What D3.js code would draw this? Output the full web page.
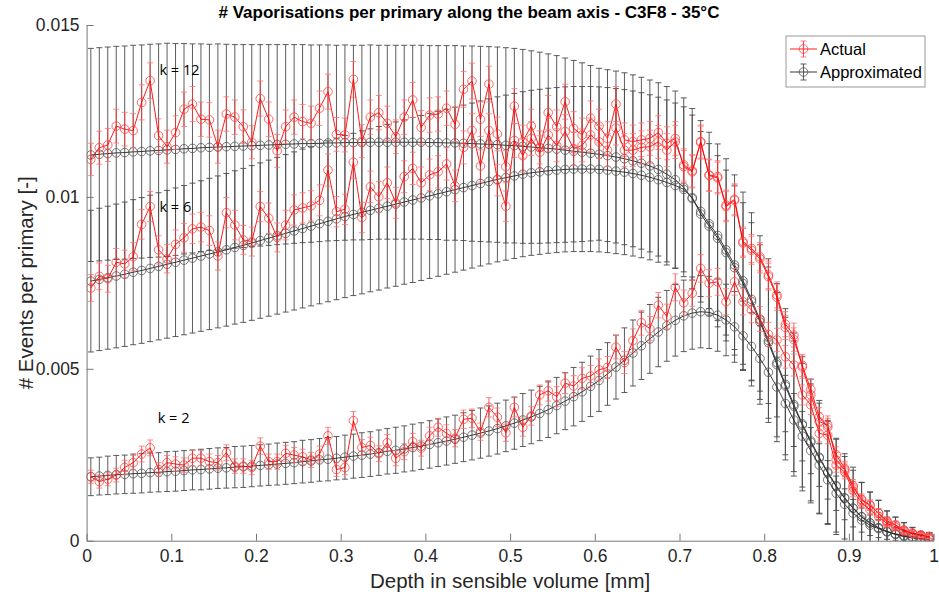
<!DOCTYPE html>
<html>
<head>
<meta charset="utf-8">
<script src="https://cdn.jsdelivr.net/npm/d3@7"></script>
<style>
  body { margin: 0; background: #fff; }
  text { font-family: "Liberation Sans", Arial, sans-serif; }
</style>
</head>
<body>
<div id="chart"></div>
<script>
const width = 939
const height = 599
const margin = { top: 25, right: 5.4, bottom: 58.3, left: 86.6 }

// depth bins (bin centres, mm)
const depth = d3.range(100).map(i => +(0.005 + 0.01 * i).toFixed(3))

const xTicks = [0, 0.1, 0.2, 0.3, 0.4, 0.5, 0.6, 0.7, 0.8, 0.9, 1]
const xTickLabels = ['0', '0.1', '0.2', '0.3', '0.4', '0.5', '0.6', '0.7', '0.8', '0.9', '1']
const yTicks = [0, 0.005, 0.01, 0.015]
const yTickLabels = ['0', '0.005', '0.01', '0.015']

// k = 12
const k12Actual = [
  .01109, .01143, .01151, .01206, .01197, .01193, .01275, .01338, .01178, .01146,
  .01187, .01255, .01270, .01226, .01224, .01146, .01241, .01232, .01204, .01159,
  .01286, .01226, .01134, .01204, .01232, .01219, .01214, .01258, .01306, .01182,
  .01180, .01342, .01162, .01232, .01245, .01214, .01175, .01232, .01282, .01202,
  .01238, .01241, .01258, .01211, .01313, .01337, .01226, .01328, .01183, .01088,
  .01264, .01161, .01206, .01144, .01245, .01204, .01277, .01199, .01180, .01229,
  .01206, .01170, .01270, .01166, .01161, .01166, .01170, .01187, .01156, .01170,
  .01088, .01073, .01161, .01064, .01059, .00976, .00993, .00870, .00850, .00826,
  .00773, .00715, .00630, .00598, .00505, .00424, .00346, .00337, .00235, .00206,
  .00155, .00118, .00104, .00080, .00055, .00046, .00031, .00022, .00017, .00012]
const k12ActualErr = [
  .00047, .00048, .00048, .00049, .00049, .00049, .00051, .00052, .00049, .00048,
  .00049, .00050, .00051, .00050, .00050, .00048, .00050, .00050, .00049, .00048,
  .00051, .00050, .00048, .00049, .00050, .00050, .00050, .00050, .00051, .00049,
  .00049, .00052, .00048, .00050, .00050, .00050, .00049, .00050, .00051, .00049,
  .00050, .00050, .00050, .00050, .00052, .00052, .00050, .00052, .00049, .00047,
  .00051, .00048, .00049, .00048, .00050, .00049, .00051, .00049, .00049, .00050,
  .00049, .00049, .00051, .00049, .00048, .00049, .00049, .00049, .00048, .00049,
  .00047, .00047, .00048, .00046, .00046, .00044, .00045, .00042, .00041, .00041,
  .00040, .00038, .00036, .00035, .00032, .00029, .00026, .00026, .00022, .00020,
  .00018, .00015, .00015, .00013, .00011, .00010, .00008, .00007, .00006, .00005]
const k12Approx = [
  .01122, .01124, .01126, .01128, .01129, .01131, .01132, .01134, .01135, .01137,
  .01138, .01140, .01141, .01143, .01144, .01145, .01146, .01147, .01148, .01149,
  .01150, .01151, .01152, .01153, .01154, .01155, .01155, .01156, .01157, .01157,
  .01158, .01158, .01158, .01159, .01159, .01159, .01159, .01159, .01159, .01159,
  .01158, .01158, .01157, .01157, .01156, .01155, .01154, .01153, .01152, .01150,
  .01149, .01147, .01145, .01143, .01141, .01139, .01136, .01133, .01130, .01127,
  .01124, .01120, .01116, .01111, .01105, .01098, .01090, .01080, .01066, .01050,
  .01028, .00995, .00958, .00922, .00888, .00846, .00802, .00756, .00702, .00642,
  .00582, .00518, .00455, .00396, .00340, .00290, .00243, .00200, .00160, .00125,
  .00095, .00070, .00052, .00038, .00027, .00019, .00013, .00009, .00006, .00004]
const k12ApproxErr = [
  .00310, .00310, .00310, .00310, .00310, .00310, .00310, .00310, .00310, .00310,
  .00308, .00306, .00304, .00302, .00300, .00300, .00298, .00296, .00295, .00294,
  .00293, .00292, .00291, .00290, .00289, .00288, .00287, .00286, .00285, .00284,
  .00284, .00283, .00283, .00283, .00282, .00282, .00282, .00282, .00282, .00282,
  .00282, .00282, .00283, .00283, .00283, .00284, .00284, .00284, .00284, .00284,
  .00283, .00282, .00280, .00278, .00275, .00272, .00268, .00264, .00260, .00255,
  .00250, .00250, .00250, .00250, .00250, .00250, .00250, .00252, .00255, .00258,
  .00260, .00262, .00264, .00266, .00266, .00265, .00262, .00258, .00252, .00245,
  .00238, .00230, .00220, .00208, .00195, .00180, .00165, .00150, .00135, .00120,
  .00110, .00100, .00090, .00080, .00060, .00050, .00040, .00030, .00020, .00020]

// k = 6
const k6Actual = [
  .00735, .00769, .00762, .00810, .00805, .00826, .00920, .00972, .00846, .00820,
  .00862, .00881, .00907, .00912, .00902, .00828, .00954, .00918, .00875, .00870,
  .00972, .00938, .00882, .00918, .00962, .00968, .00974, .00990, .01078, .00957,
  .00964, .01101, .00940, .01029, .01000, .01041, .00983, .01059, .01083, .01041,
  .01064, .01073, .01096, .01032, .01144, .01193, .01090, .01193, .01049, .00973,
  .01164, .01120, .01170, .01130, .01180, .01150, .01190, .01140, .01150, .01180,
  .01160, .01136, .01200, .01136, .01136, .01144, .01146, .01160, .01136, .01160,
  .01093, .01076, .01158, .01062, .01055, .00972, .00990, .00866, .00845, .00820,
  .00768, .00708, .00620, .00585, .00510, .00440, .00360, .00330, .00250, .00210,
  .00160, .00120, .00102, .00080, .00058, .00045, .00030, .00022, .00016, .00012]
const k6ActualErr = [
  .00039, .00039, .00039, .00040, .00040, .00041, .00043, .00044, .00041, .00041,
  .00042, .00042, .00043, .00043, .00043, .00041, .00044, .00043, .00042, .00042,
  .00044, .00044, .00042, .00043, .00044, .00044, .00044, .00045, .00047, .00044,
  .00044, .00047, .00044, .00046, .00045, .00046, .00045, .00046, .00047, .00046,
  .00046, .00047, .00047, .00046, .00048, .00049, .00047, .00049, .00046, .00044,
  .00049, .00048, .00049, .00048, .00049, .00048, .00049, .00048, .00048, .00049,
  .00048, .00048, .00049, .00048, .00048, .00048, .00048, .00048, .00048, .00048,
  .00047, .00047, .00048, .00046, .00046, .00044, .00045, .00042, .00041, .00041,
  .00039, .00038, .00035, .00034, .00032, .00030, .00027, .00026, .00023, .00021,
  .00018, .00016, .00014, .00013, .00011, .00010, .00008, .00007, .00006, .00005]
const k6Approx = [
  .00755, .00760, .00765, .00770, .00775, .00781, .00786, .00792, .00798, .00804,
  .00810, .00816, .00822, .00828, .00834, .00840, .00846, .00853, .00859, .00866,
  .00873, .00880, .00887, .00894, .00901, .00908, .00915, .00922, .00929, .00936,
  .00943, .00949, .00955, .00961, .00967, .00973, .00979, .00985, .00991, .00997,
  .01003, .01009, .01015, .01021, .01027, .01033, .01039, .01045, .01051, .01056,
  .01061, .01066, .01070, .01073, .01076, .01078, .01080, .01081, .01081, .01081,
  .01080, .01078, .01075, .01072, .01068, .01063, .01057, .01050, .01042, .01033,
  .01022, .00998, .00950, .00915, .00880, .00838, .00794, .00748, .00695, .00636,
  .00576, .00512, .00450, .00391, .00336, .00286, .00240, .00197, .00158, .00123,
  .00094, .00069, .00051, .00037, .00026, .00018, .00012, .00008, .00006, .00004]
const k6ApproxErr = [
  .00206, .00207, .00208, .00209, .00210, .00211, .00212, .00213, .00214, .00215,
  .00216, .00217, .00218, .00219, .00220, .00221, .00222, .00223, .00224, .00225,
  .00226, .00227, .00228, .00229, .00230, .00231, .00232, .00233, .00234, .00235,
  .00236, .00236, .00237, .00237, .00238, .00238, .00239, .00239, .00240, .00240,
  .00240, .00240, .00240, .00240, .00240, .00240, .00240, .00240, .00240, .00240,
  .00240, .00240, .00240, .00240, .00240, .00240, .00240, .00240, .00240, .00240,
  .00240, .00240, .00240, .00240, .00240, .00240, .00240, .00240, .00240, .00240,
  .00240, .00240, .00240, .00240, .00240, .00240, .00238, .00235, .00230, .00225,
  .00220, .00210, .00200, .00190, .00180, .00170, .00160, .00150, .00140, .00130,
  .00120, .00100, .00090, .00080, .00060, .00050, .00040, .00030, .00020, .00020]

// k = 2
const k2Actual = [
  .00186, .00172, .00179, .00191, .00213, .00227, .00252, .00270, .00207, .00227,
  .00223, .00220, .00240, .00240, .00230, .00227, .00256, .00217, .00217, .00213,
  .00275, .00230, .00230, .00254, .00249, .00244, .00235, .00252, .00305, .00207,
  .00213, .00349, .00271, .00277, .00253, .00285, .00240, .00259, .00288, .00269,
  .00305, .00330, .00312, .00298, .00353, .00356, .00317, .00388, .00359, .00314,
  .00388, .00330, .00363, .00424, .00436, .00419, .00458, .00450, .00472, .00479,
  .00497, .00504, .00563, .00518, .00582, .00634, .00617, .00685, .00652, .00737,
  .00692, .00720, .00792, .00749, .00753, .00695, .00753, .00695, .00671, .00645,
  .00600, .00584, .00535, .00511, .00424, .00395, .00312, .00307, .00220, .00200,
  .00145, .00110, .00090, .00070, .00050, .00040, .00028, .00020, .00015, .00010]
const k2ActualErr = [
  .00019, .00019, .00019, .00020, .00021, .00021, .00023, .00023, .00020, .00021,
  .00021, .00021, .00022, .00022, .00022, .00021, .00023, .00021, .00021, .00021,
  .00024, .00022, .00022, .00023, .00022, .00022, .00022, .00023, .00025, .00020,
  .00021, .00027, .00023, .00024, .00023, .00024, .00022, .00023, .00024, .00023,
  .00025, .00026, .00025, .00025, .00027, .00027, .00025, .00028, .00027, .00025,
  .00028, .00026, .00027, .00029, .00030, .00029, .00030, .00030, .00031, .00031,
  .00032, .00032, .00034, .00032, .00034, .00036, .00035, .00037, .00036, .00039,
  .00037, .00038, .00040, .00039, .00039, .00038, .00039, .00038, .00037, .00036,
  .00035, .00034, .00033, .00032, .00029, .00028, .00025, .00025, .00021, .00020,
  .00017, .00015, .00014, .00012, .00010, .00009, .00008, .00006, .00006, .00005]
const k2Approx = [
  .00186, .00188, .00190, .00192, .00193, .00195, .00196, .00198, .00199, .00201,
  .00202, .00204, .00206, .00207, .00209, .00211, .00212, .00214, .00215, .00217,
  .00219, .00221, .00223, .00225, .00227, .00230, .00232, .00235, .00237, .00240,
  .00243, .00246, .00249, .00252, .00256, .00260, .00263, .00267, .00271, .00275,
  .00280, .00285, .00290, .00295, .00301, .00307, .00313, .00319, .00326, .00334,
  .00342, .00351, .00360, .00370, .00381, .00393, .00406, .00419, .00433, .00449,
  .00466, .00485, .00505, .00525, .00546, .00567, .00587, .00607, .00625, .00641,
  .00654, .00662, .00666, .00664, .00656, .00642, .00622, .00596, .00565, .00530,
  .00490, .00447, .00399, .00351, .00304, .00262, .00220, .00177, .00138, .00106,
  .00080, .00060, .00045, .00035, .00026, .00020, .00015, .00012, .00010, .00008]
const k2ApproxErr = [
  .00055, .00055, .00056, .00056, .00056, .00057, .00057, .00057, .00057, .00058,
  .00058, .00058, .00058, .00059, .00059, .00059, .00059, .00060, .00060, .00060,
  .00060, .00060, .00061, .00061, .00061, .00062, .00062, .00062, .00063, .00063,
  .00064, .00064, .00065, .00065, .00066, .00066, .00067, .00067, .00068, .00068,
  .00069, .00069, .00070, .00070, .00071, .00072, .00073, .00073, .00074, .00075,
  .00076, .00077, .00078, .00079, .00081, .00082, .00083, .00085, .00086, .00088,
  .00090, .00091, .00093, .00094, .00096, .00098, .00100, .00101, .00103, .00104,
  .00104, .00105, .00105, .00105, .00105, .00104, .00103, .00101, .00098, .00095,
  .00091, .00087, .00082, .00077, .00072, .00067, .00062, .00056, .00050, .00045,
  .00040, .00035, .00030, .00026, .00022, .00019, .00016, .00014, .00012, .00010]

const curveLabels = ['k = 12', 'k = 6', 'k = 2']
const curveLabelX = [0.086, 0.086, 0.084]
const curveLabelY = [0.01354, 0.00957, 0.00342]

const svg = d3.select('#chart')
  .append('svg')
  .attr('width', width)
  .attr('height', height)

const x = d3.scaleLinear().domain([0, 1]).range([margin.left, width - margin.right])
const y = d3.scaleLinear().domain([0, 0.015]).range([height - margin.bottom, margin.top])

svg.append('clipPath').attr('id', 'plotclip')
  .append('rect')
  .attr('x', margin.left).attr('y', margin.top)
  .attr('width', width - margin.left - margin.right)
  .attr('height', height - margin.top - margin.bottom)

const plot = svg.append('g').attr('clip-path', 'url(#plotclip)')
const capHalf = 3

function drawSeries(vals, errs, opts) {
  const pts = depth.map((d, i) => ({ d: d, v: vals[i], e: errs[i] }))
  const g = plot.append('g')

  g.selectAll('.bar')
    .data(pts)
    .enter().append('line')
    .attr('class', 'bar')
    .attr('x1', p => x(p.d)).attr('x2', p => x(p.d))
    .attr('y1', p => y(p.v - p.e)).attr('y2', p => y(p.v + p.e))
    .attr('stroke', opts.barColor)
    .attr('stroke-width', opts.barWidth)

  g.selectAll('.captop')
    .data(pts)
    .enter().append('line')
    .attr('class', 'captop')
    .attr('x1', p => x(p.d) - capHalf).attr('x2', p => x(p.d) + capHalf)
    .attr('y1', p => y(p.v + p.e)).attr('y2', p => y(p.v + p.e))
    .attr('stroke', opts.capColor)
    .attr('stroke-width', opts.barWidth)

  g.selectAll('.capbot')
    .data(pts)
    .enter().append('line')
    .attr('class', 'capbot')
    .attr('x1', p => x(p.d) - capHalf).attr('x2', p => x(p.d) + capHalf)
    .attr('y1', p => y(p.v - p.e)).attr('y2', p => y(p.v - p.e))
    .attr('stroke', opts.capColor)
    .attr('stroke-width', opts.barWidth)

  g.append('path')
    .datum(pts)
    .attr('fill', 'none')
    .attr('stroke', opts.lineColor)
    .attr('stroke-width', 0.9)
    .attr('d', d3.line().x(p => x(p.d)).y(p => y(p.v)))

  g.selectAll('.dot')
    .data(pts)
    .enter().append('circle')
    .attr('class', 'dot')
    .attr('cx', p => x(p.d))
    .attr('cy', p => y(p.v))
    .attr('r', 4.3)
    .attr('fill', 'none')
    .attr('stroke', opts.dotColor)
    .attr('stroke-width', 0.8)
}

const approxStyle = { barColor: '#4a4a4a', capColor: '#4a4a4a', lineColor: '#222', dotColor: '#555', barWidth: 0.9 }
const actualStyle = { barColor: '#ff3030', capColor: '#ff7070', lineColor: '#ff0000', dotColor: '#ff4040', barWidth: 0.8 }

drawSeries(k12Approx, k12ApproxErr, approxStyle)
drawSeries(k6Approx, k6ApproxErr, approxStyle)
drawSeries(k2Approx, k2ApproxErr, approxStyle)
drawSeries(k12Actual, k12ActualErr, actualStyle)
drawSeries(k6Actual, k6ActualErr, actualStyle)
drawSeries(k2Actual, k2ActualErr, actualStyle)

// axes (MATLAB style: ticks inside, no box)
const xAxis = d3.axisBottom(x)
  .tickValues(xTicks)
  .tickFormat((d, i) => xTickLabels[i])
  .tickSizeInner(-7)
  .tickSizeOuter(0)
  .tickPadding(9)
const yAxis = d3.axisLeft(y)
  .tickValues(yTicks)
  .tickFormat((d, i) => yTickLabels[i])
  .tickSizeInner(-7)
  .tickSizeOuter(0)
  .tickPadding(7)

const gx = svg.append('g')
  .attr('transform', `translate(0,${height - margin.bottom})`)
  .call(xAxis)
const gy = svg.append('g')
  .attr('transform', `translate(${margin.left},0)`)
  .call(yAxis)

;[gx, gy].forEach(g => {
  g.select('.domain').attr('stroke', '#777')
  g.selectAll('.tick line').attr('stroke', '#777')
  g.selectAll('.tick text')
    .attr('fill', '#262626')
    .style('font-size', '17.5px')
    .style('font-family', '"Liberation Sans", Arial, sans-serif')
})

svg.append('text')
  .attr('x', 469)
  .attr('y', 18)
  .attr('text-anchor', 'middle')
  .style('font-size', '17px')
  .style('font-weight', 'bold')
  .attr('fill', '#000')
  .text('# Vaporisations per primary along the beam axis - C3F8 - 35°C')

svg.append('text')
  .attr('x', (margin.left + width - margin.right) / 2)
  .attr('y', 588)
  .attr('text-anchor', 'middle')
  .style('font-size', '20.5px')
  .attr('fill', '#262626')
  .text('Depth in sensible volume [mm]')

svg.append('text')
  .attr('transform', `translate(33,${(margin.top + height - margin.bottom) / 2}) rotate(-90)`)
  .attr('text-anchor', 'middle')
  .style('font-size', '20.5px')
  .attr('fill', '#262626')
  .text('# Events per primary [-]')

// k annotations
svg.selectAll('.klabel')
  .data(curveLabels)
  .enter().append('text')
  .attr('class', 'klabel')
  .attr('x', (d, i) => x(curveLabelX[i]))
  .attr('y', (d, i) => y(curveLabelY[i]))
  .style('font-family', '"Open Sans", sans-serif')
  .style('font-size', '14.5px')
  .attr('fill', '#000')
  .text(d => d)

// legend
const legend = svg.append('g').attr('transform', 'translate(786,36)')
legend.append('rect')
  .attr('width', 139).attr('height', 51)
  .attr('fill', '#fff')
  .attr('stroke', '#999')
  .attr('stroke-width', 1)

const legendItems = [
  { label: 'Actual', style: actualStyle },
  { label: 'Approximated', style: approxStyle }
]
legendItems.forEach((item, i) => {
  const row = legend.append('g').attr('transform', `translate(0,${13 + i * 23})`)
  row.append('line').attr('x1', 4).attr('x2', 31).attr('y1', 0).attr('y2', 0)
    .attr('stroke', item.style.lineColor).attr('stroke-width', 0.9)
  row.append('line').attr('x1', 17.5).attr('x2', 17.5).attr('y1', -8).attr('y2', 8)
    .attr('stroke', item.style.barColor).attr('stroke-width', 0.9)
  ;[-8, 8].forEach(dy => {
    row.append('line').attr('x1', 14.5).attr('x2', 20.5).attr('y1', dy).attr('y2', dy)
      .attr('stroke', item.style.capColor).attr('stroke-width', 0.9)
  })
  row.append('circle').attr('cx', 17.5).attr('cy', 0).attr('r', 4.3)
    .attr('fill', 'none').attr('stroke', item.style.dotColor).attr('stroke-width', 0.8)
  row.append('text').attr('x', 34).attr('y', 6)
    .style('font-size', '16.5px')
    .attr('fill', '#000')
    .text(item.label)
})
</script>
</body>
</html>
